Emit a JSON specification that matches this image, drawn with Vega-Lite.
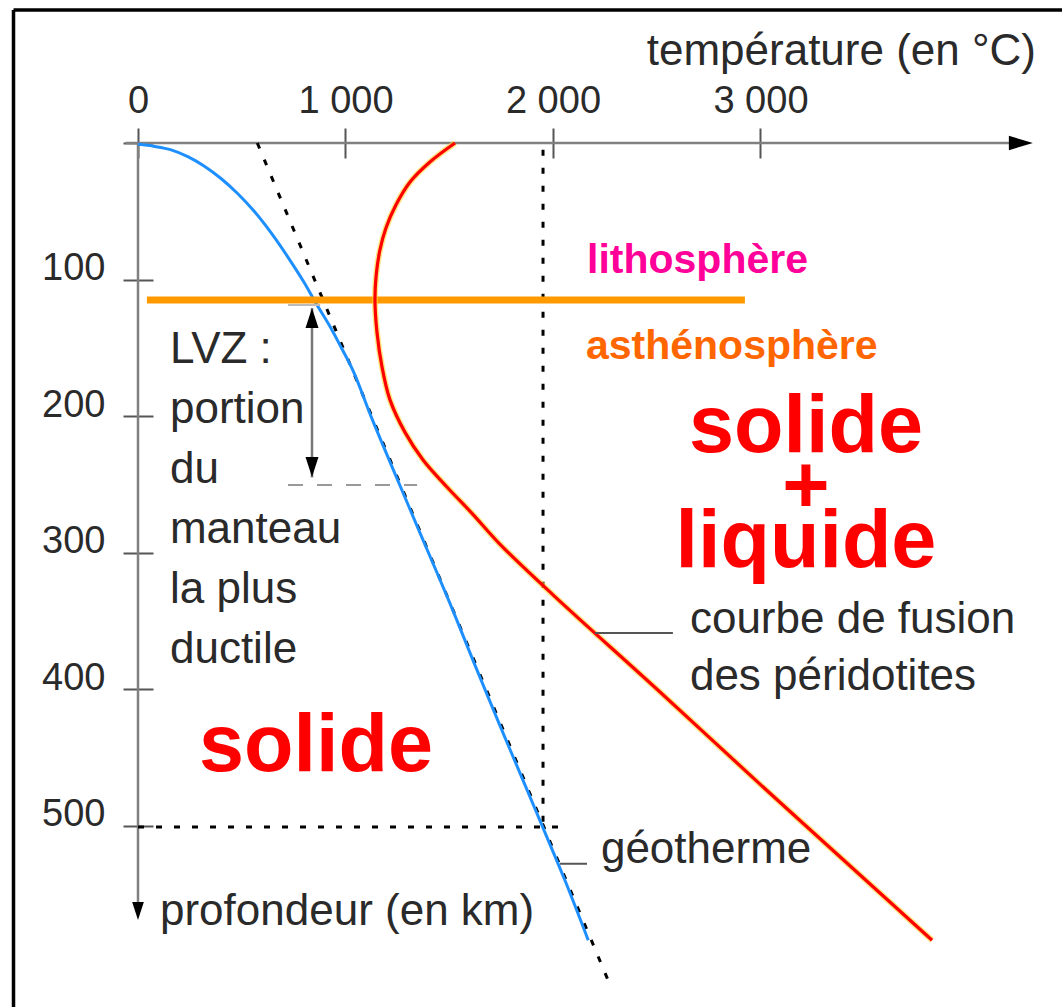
{
  "$schema": "https://vega.github.io/schema/vega-lite/v6.json",
  "width": 892,
  "height": 780,
  "autosize": {"type": "none"},
  "padding": {"left": 138, "top": 143, "right": 32, "bottom": 84},
  "background": "white",
  "config": {"view": {"stroke": null}, "text": {"font": "Liberation Sans"}},
  "encoding": {
    "x": {
      "field": "T", "type": "quantitative",
      "scale": {"domain": [0, 4299], "nice": false, "zero": false},
      "axis": {
        "orient": "top", "values": [0, 1000, 2000, 3000],
        "labelExpr": "datum.value == 0 ? '0' : floor(datum.value / 1000) + ' 000'",
        "domain": false, "grid": false, "ticks": true, "tickSize": 30, "offset": -15,
        "tickColor": "#555555", "tickWidth": 2,
        "labelFont": "Liberation Sans", "labelFontSize": 38, "labelColor": "#2a2a2a",
        "labelBaseline": "alphabetic", "labelPadding": 16, "title": null,
        "labelFlush": false, "labelOverlap": false
      }
    },
    "y": {
      "field": "D", "type": "quantitative",
      "scale": {"domain": [0, 571.4], "nice": false, "zero": false, "reverse": true},
      "axis": {
        "orient": "left", "values": [0, 100, 200, 300, 400, 500],
        "labelExpr": "datum.value == 0 ? '' : datum.label",
        "domain": false, "grid": false, "ticks": true, "tickSize": 30, "offset": -15,
        "tickColor": "#555555", "tickWidth": 2,
        "labelFont": "Liberation Sans", "labelFontSize": 38, "labelColor": "#2a2a2a",
        "labelBaseline": "alphabetic", "labelPadding": 18, "title": null,
        "labelFlush": false, "labelOverlap": false
      }
    }
  },
  "layer": [
    {
      "data": {"values": [
        {"T": -600, "D": -97.4, "T2": -600, "D2": 650},
        {"T": -600, "D": -97.4, "T2": 4480, "D2": -97.4}
      ]},
      "mark": {"type": "rule", "color": "black", "strokeWidth": 3.5},
      "encoding": {"x2": {"field": "T2"}, "y2": {"field": "D2"}}
    },
    {
      "data": {"values": [
        {"T": -60, "D": 0, "T2": 4255, "D2": 0},
        {"T": 0, "D": 0, "T2": 0, "D2": 562}
      ]},
      "mark": {"type": "rule", "color": "#808080", "strokeWidth": 2.5},
      "encoding": {"x2": {"field": "T2"}, "y2": {"field": "D2"}}
    },
    {
      "data": {"values": [{"T": 4255, "D": 0}]},
      "mark": {"type": "point", "shape": "M1,0L-1,-0.6L-1,0.6Z", "size": 576, "filled": true, "color": "black", "opacity": 1, "strokeWidth": 0}
    },
    {
      "data": {"values": [{"T": 0, "D": 562.6}]},
      "mark": {"type": "point", "shape": "M0,1L-0.65,-1L0.65,-1Z", "size": 324, "filled": true, "color": "black", "opacity": 1, "strokeWidth": 0}
    },
    {
      "data": {"values": [
        {"T": 1952, "D": 5, "T2": 1952, "D2": 501},
        {"T": 0, "D": 501, "T2": 2053, "D2": 501}
      ]},
      "mark": {"type": "rule", "color": "black", "strokeWidth": 3, "strokeDash": [6, 12]},
      "encoding": {"x2": {"field": "T2"}, "y2": {"field": "D2"}}
    },
    {
      "data": {"values": [{"T": 575, "D": 0}, {"T": 2284, "D": 620}]},
      "mark": {"type": "line", "color": "black", "strokeWidth": 3, "strokeDash": [6, 12]},
      "encoding": {"order": {"field": "D", "type": "quantitative"}}
    },
    {
      "data": {"values": [
        {"T": 0, "D": 1}, {"T": 80, "D": 2.5}, {"T": 160, "D": 5}, {"T": 240, "D": 10},
        {"T": 320, "D": 17}, {"T": 400, "D": 26}, {"T": 480, "D": 37}, {"T": 560, "D": 50},
        {"T": 640, "D": 65.5}, {"T": 720, "D": 83}, {"T": 800, "D": 102}, {"T": 860, "D": 118},
        {"T": 920, "D": 133}, {"T": 980, "D": 150}, {"T": 1040, "D": 168}, {"T": 1125, "D": 201},
        {"T": 1260, "D": 250}, {"T": 1360, "D": 286}, {"T": 1500, "D": 336}, {"T": 1620, "D": 381},
        {"T": 1745, "D": 427}, {"T": 1870, "D": 472}, {"T": 1950, "D": 501}, {"T": 2060, "D": 541},
        {"T": 2170, "D": 584}
      ]},
      "mark": {"type": "line", "color": "#1e8fff", "strokeWidth": 3, "interpolate": "catmull-rom"},
      "encoding": {"order": {"field": "D", "type": "quantitative"}}
    },
    {
      "data": {"values": [{"T": 43, "D": 115, "T2": 2925, "D2": 115}]},
      "mark": {"type": "rule", "color": "#ff9900", "strokeWidth": 7},
      "encoding": {"x2": {"field": "T2"}, "y2": {"field": "D2"}}
    },
    {
      "data": {"values": [{"T": 723, "D": 118.7, "T2": 878, "D2": 118.7}]},
      "mark": {"type": "rule", "color": "#bbbbbb", "strokeWidth": 2},
      "encoding": {"x2": {"field": "T2"}, "y2": {"field": "D2"}}
    },
    {
      "data": {"values": [{"T": 723, "D": 250.5, "T2": 1345, "D2": 250.5}]},
      "mark": {"type": "rule", "color": "#999999", "strokeWidth": 2, "strokeDash": [15, 14]},
      "encoding": {"x2": {"field": "T2"}, "y2": {"field": "D2"}}
    },
    {
      "data": {"values": [{"T": 838.6, "D": 121, "T2": 838.6, "D2": 245}]},
      "mark": {"type": "rule", "color": "#777777", "strokeWidth": 2.5},
      "encoding": {"x2": {"field": "T2"}, "y2": {"field": "D2"}}
    },
    {
      "data": {"values": [{"T": 838.6, "D": 128.2}]},
      "mark": {"type": "point", "shape": "M0,-1L0.65,1L-0.65,1Z", "size": 400, "filled": true, "color": "black", "opacity": 1, "strokeWidth": 0}
    },
    {
      "data": {"values": [{"T": 838.6, "D": 237.4}]},
      "mark": {"type": "point", "shape": "M0,1L0.65,-1L-0.65,-1Z", "size": 400, "filled": true, "color": "black", "opacity": 1, "strokeWidth": 0}
    },
    {
      "data": {"name": "fusion", "values": [
        {"T": 1528, "D": 0}, {"T": 1407, "D": 13.9}, {"T": 1311, "D": 28.6}, {"T": 1243, "D": 45.5},
        {"T": 1195, "D": 62.3}, {"T": 1166, "D": 78.4}, {"T": 1148, "D": 96.7}, {"T": 1142, "D": 115},
        {"T": 1152, "D": 139}, {"T": 1176, "D": 164}, {"T": 1214, "D": 188}, {"T": 1287, "D": 212},
        {"T": 1373, "D": 232}, {"T": 1489, "D": 252}, {"T": 1614, "D": 272}, {"T": 1745, "D": 294},
        {"T": 2000, "D": 331}, {"T": 2500, "D": 400}, {"T": 3000, "D": 470}, {"T": 3500, "D": 539},
        {"T": 3827, "D": 584}
      ]},
      "layer": [
        {
          "mark": {"type": "line", "color": "#ffd633", "strokeWidth": 6, "opacity": 0.6, "interpolate": "catmull-rom"},
          "encoding": {"order": {"field": "D", "type": "quantitative"}}
        },
        {
          "mark": {"type": "line", "color": "#ff0000", "strokeWidth": 3.2, "interpolate": "catmull-rom"},
          "encoding": {"order": {"field": "D", "type": "quantitative"}}
        }
      ]
    },
    {
      "data": {"values": [
        {"T": 2202, "D": 359, "T2": 2578, "D2": 359},
        {"T": 2034, "D": 528, "T2": 2164, "D2": 528}
      ]},
      "mark": {"type": "rule", "color": "#555555", "strokeWidth": 2},
      "encoding": {"x2": {"field": "T2"}, "y2": {"field": "D2"}}
    },
    {
      "data": {"values": [
        {"T": 4328, "D": -57.1, "label": "température (en °C)"}
      ]},
      "mark": {"type": "text", "align": "right", "baseline": "alphabetic", "fontSize": 44, "color": "#2a2a2a"},
      "encoding": {"text": {"field": "label"}}
    },
    {
      "data": {"values": [
        {"T": 154, "D": 161.2, "label": "LVZ :\nportion\ndu\nmanteau\nla plus\nductile"},
        {"T": 2231, "D": 527.5, "label": "géotherme"},
        {"T": 106, "D": 572.9, "label": "profondeur (en km)"}
      ]},
      "mark": {"type": "text", "align": "left", "baseline": "alphabetic", "fontSize": 44, "color": "#2a2a2a", "lineBreak": "\n", "lineHeight": 60},
      "encoding": {"text": {"field": "label"}}
    },
    {
      "data": {"values": [
        {"T": 2660, "D": 359, "label": "courbe de fusion\ndes péridotites"}
      ]},
      "mark": {"type": "text", "align": "left", "baseline": "alphabetic", "fontSize": 44, "color": "#2a2a2a", "lineBreak": "\n", "lineHeight": 57},
      "encoding": {"text": {"field": "label"}}
    },
    {
      "data": {"values": [
        {"T": 858, "D": 460, "label": "solide"},
        {"T": 3219, "D": 226.4, "label": "solide"},
        {"T": 3219, "D": 270.5, "label": "+"},
        {"T": 3219, "D": 310.6, "label": "liquide"}
      ]},
      "mark": {"type": "text", "align": "center", "baseline": "alphabetic", "fontSize": 81, "fontWeight": "bold", "color": "#ff0000"},
      "encoding": {"text": {"field": "label"}}
    },
    {
      "data": {"values": [
        {"T": 2164, "D": 95.2, "label": "lithosphère"}
      ]},
      "mark": {"type": "text", "align": "left", "baseline": "alphabetic", "fontSize": 41, "fontWeight": "bold", "color": "#ff0099"},
      "encoding": {"text": {"field": "label"}}
    },
    {
      "data": {"values": [
        {"T": 2159, "D": 158.2, "label": "asthénosphère"}
      ]},
      "mark": {"type": "text", "align": "left", "baseline": "alphabetic", "fontSize": 41, "fontWeight": "bold", "color": "#ff6600"},
      "encoding": {"text": {"field": "label"}}
    }
  ]
}
